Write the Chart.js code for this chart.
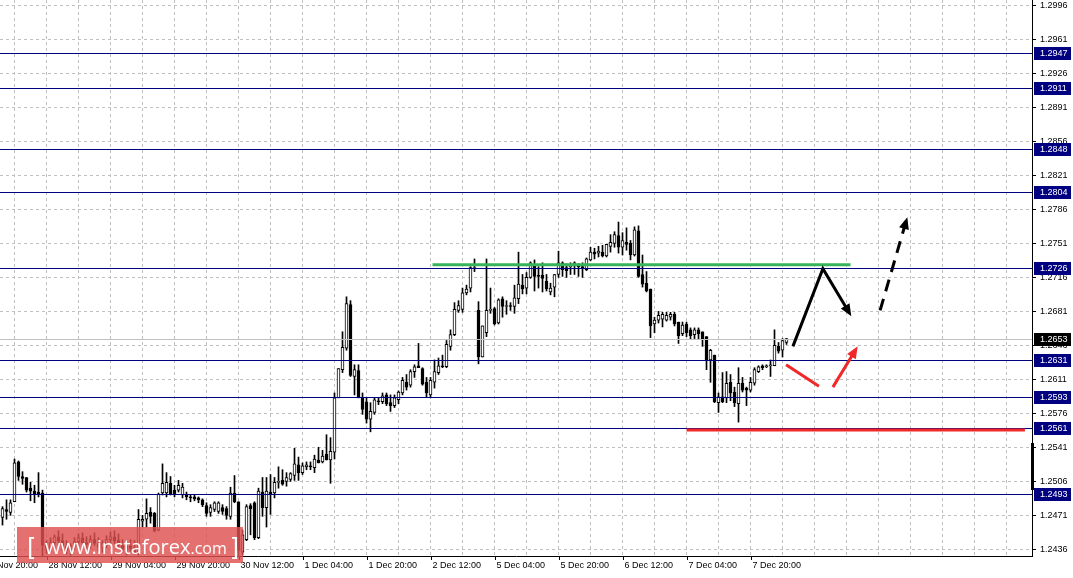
<!DOCTYPE html>
<html lang="en">
  <head>
    <meta charset="UTF-8" />
    <title>GBPUSD H1</title>
    <script src="https://cdn.jsdelivr.net/npm/chart.js"></script>
    <style>
      html, body { margin: 0; padding: 0; background: #fff; }
      #wrapper { width: 1073px; height: 578px; }
    </style>
  </head>
  <body>
    <div id="wrapper">
      <canvas id="priceChart" width="1073" height="578"></canvas>
    </div>

    <script>
      // H1 candles, one per bar, bar 0 = 28 Nov 01:00
      var opens = [
        1.2469,1.2477,1.2474,1.2485,1.2526,1.2511,1.2510,1.2499,1.2496,1.2495,
        1.2494,1.2440,1.2437,1.2443,1.2449,1.2445,1.2439,1.2435,1.2440,1.2444,
        1.2448,1.2443,1.2441,1.2446,1.2442,1.2438,1.2442,1.2446,1.2449,1.2445,
        1.2440,1.2436,1.2439,1.2437,1.2433,1.2465,1.2467,1.2474,1.2473,1.2456,
        1.2494,1.2494,1.2504,1.2497,1.2497,1.2492,1.2492,1.2490,1.2490,1.2489,
        1.2487,1.2481,1.2474,1.2477,1.2475,1.2479,1.2478,1.2470,1.2494,1.2485,
        1.2433,1.2446,1.2481,1.2484,1.2448,1.2495,1.2479,1.2495,1.2494,1.2505,
        1.2507,1.2506,1.2508,1.2512,1.2523,1.2515,1.2521,1.2522,1.2520,1.2528,
        1.2526,1.2534,1.2528,1.2536,1.2592,1.2621,1.2643,1.2688,1.2614,1.2620,
        1.2592,1.2588,1.2570,1.2577,1.2589,1.2588,1.2595,1.2587,1.2584,1.2590,
        1.2597,1.2608,1.2605,1.2619,1.2625,1.2622,1.2608,1.2595,1.2608,1.2618,
        1.2625,1.2624,1.2645,1.2657,1.2682,1.2683,1.2700,1.2705,1.2725,1.2682,
        1.2634,1.2659,1.2682,1.2684,1.2669,1.2694,1.2686,1.2687,1.2686,1.2694,
        1.2708,1.2705,1.2716,1.2728,1.2718,1.2718,1.2712,1.2701,1.2706,1.2719,
        1.2731,1.2726,1.2727,1.2730,1.2728,1.2727,1.2724,1.2734,1.2742,1.2741,
        1.2742,1.2738,1.2748,1.2751,1.2759,1.2747,1.2752,1.2751,1.2739,1.2764,
        1.2719,1.2710,1.2704,1.2668,1.2672,1.2673,1.2672,1.2675,1.2678,1.2670,
        1.2658,1.2668,1.2662,1.2657,1.2662,1.2660,1.2655,1.2631,1.2636,1.2587,
        1.2593,1.2592,1.2608,1.2598,1.2586,1.2607,1.2602,1.2600,1.2607,1.2619,
        1.2625,1.2624,1.2625,1.2625,1.2645,1.2641,1.2649
      ];
      var highs = [
        1.2480,1.2487,1.2487,1.2529,1.2527,1.2516,1.2510,1.2505,1.2502,1.2515,
        1.2497,1.2445,1.2448,1.2451,1.2455,1.2452,1.2445,1.2442,1.2448,1.2452,
        1.2453,1.2449,1.2450,1.2453,1.2448,1.2445,1.2450,1.2454,1.2455,1.2452,
        1.2446,1.2443,1.2446,1.2445,1.2477,1.2471,1.2488,1.2479,1.2474,1.2494,
        1.2524,1.2515,1.2511,1.2502,1.2507,1.2504,1.2495,1.2492,1.2492,1.2490,
        1.2488,1.2484,1.2482,1.2485,1.2485,1.2482,1.2480,1.2500,1.2512,1.2485,
        1.2456,1.2482,1.2483,1.2485,1.2499,1.2510,1.2510,1.2513,1.2510,1.2521,
        1.2518,1.2515,1.2515,1.2540,1.2531,1.2525,1.2526,1.2526,1.2533,1.2541,
        1.2538,1.2554,1.2551,1.2597,1.2622,1.2660,1.2696,1.2692,1.2626,1.2626,
        1.2597,1.2592,1.2587,1.2592,1.2592,1.2597,1.2597,1.2595,1.2595,1.2599,
        1.2613,1.2616,1.2621,1.2626,1.2648,1.2623,1.2613,1.2613,1.2631,1.2633,
        1.2636,1.2651,1.2662,1.2690,1.2692,1.2705,1.2708,1.2727,1.2735,1.2691,
        1.2666,1.2735,1.2705,1.2685,1.2694,1.2696,1.2692,1.2690,1.2708,1.2742,
        1.2719,1.2721,1.2732,1.2734,1.2727,1.2731,1.2719,1.2710,1.2719,1.2743,
        1.2732,1.2730,1.2731,1.2732,1.2730,1.2731,1.2736,1.2747,1.2746,1.2748,
        1.2749,1.2750,1.2760,1.2763,1.2773,1.2762,1.2767,1.2754,1.2768,1.2769,
        1.2739,1.2722,1.2704,1.2675,1.2681,1.2680,1.2680,1.2680,1.2680,1.2670,
        1.2670,1.2670,1.2664,1.2664,1.2664,1.2660,1.2655,1.2642,1.2636,1.2597,
        1.2618,1.2619,1.2616,1.2603,1.2623,1.2613,1.2603,1.2613,1.2623,1.2625,
        1.2626,1.2626,1.2631,1.2662,1.2649,1.2653,1.2653
      ];
      var lows = [
        1.2461,1.2467,1.2471,1.2485,1.2507,1.2503,1.2495,1.2486,1.2484,1.2490,
        1.2429,1.2432,1.2433,1.2437,1.2440,1.2435,1.2431,1.2430,1.2436,1.2439,
        1.2441,1.2436,1.2437,1.2440,1.2434,1.2433,1.2438,1.2441,1.2442,1.2437,
        1.2433,1.2430,1.2434,1.2431,1.2430,1.2459,1.2459,1.2463,1.2454,1.2455,
        1.2492,1.2490,1.2492,1.2490,1.2495,1.2489,1.2487,1.2485,1.2486,1.2484,
        1.2480,1.2470,1.2470,1.2475,1.2473,1.2472,1.2467,1.2467,1.2484,1.2429,
        1.2430,1.2445,1.2451,1.2446,1.2447,1.2470,1.2459,1.2472,1.2489,1.2499,
        1.2502,1.2501,1.2506,1.2507,1.2507,1.2513,1.2518,1.2518,1.2515,1.2525,
        1.2525,1.2528,1.2504,1.2529,1.2592,1.2618,1.2641,1.2614,1.2595,1.2592,
        1.2575,1.2566,1.2557,1.2575,1.2585,1.2586,1.2584,1.2578,1.2582,1.2586,
        1.2595,1.2600,1.2603,1.2613,1.2623,1.2605,1.2593,1.2592,1.2602,1.2616,
        1.2623,1.2623,1.2641,1.2656,1.2680,1.2680,1.2698,1.2701,1.2722,1.2627,
        1.2634,1.2655,1.2679,1.2667,1.2668,1.2675,1.2678,1.2682,1.2679,1.2689,
        1.2699,1.2699,1.2715,1.2702,1.2705,1.2701,1.2702,1.2698,1.2696,1.2716,
        1.2717,1.2716,1.2719,1.2719,1.2717,1.2716,1.2723,1.2733,1.2735,1.2737,
        1.2737,1.2737,1.2742,1.2747,1.2741,1.2739,1.2744,1.2734,1.2738,1.2716,
        1.2706,1.2701,1.2654,1.2659,1.2669,1.2665,1.2671,1.2672,1.2666,1.2648,
        1.2656,1.2655,1.2652,1.2653,1.2652,1.2645,1.2621,1.2608,1.2587,1.2577,
        1.2587,1.2587,1.2589,1.2583,1.2567,1.2598,1.2584,1.2598,1.2605,1.2618,
        1.2621,1.2623,1.2614,1.2625,1.2638,1.2634,1.2647
      ];
      var closes = [
        1.2478,1.2475,1.2484,1.2525,1.2511,1.2509,1.2497,1.2496,1.2493,1.2493,
        1.2440,1.2437,1.2443,1.2449,1.2445,1.2439,1.2435,1.2440,1.2444,1.2448,
        1.2443,1.2441,1.2446,1.2442,1.2438,1.2442,1.2446,1.2449,1.2445,1.2440,
        1.2436,1.2439,1.2437,1.2433,1.2467,1.2467,1.2473,1.2470,1.2455,1.2493,
        1.2504,1.2505,1.2493,1.2493,1.2502,1.2500,1.2490,1.2489,1.2488,1.2487,
        1.2482,1.2473,1.2479,1.2484,1.2484,1.2475,1.2471,1.2494,1.2485,1.2435,
        1.2451,1.2480,1.2478,1.2448,1.2496,1.2479,1.2496,1.2493,1.2505,1.2506,
        1.2503,1.2510,1.2514,1.2524,1.2515,1.2522,1.2523,1.2521,1.2529,1.2525,
        1.2532,1.2528,1.2537,1.2592,1.2622,1.2644,1.2689,1.2615,1.2621,1.2592,
        1.2580,1.2570,1.2578,1.2590,1.2588,1.2594,1.2586,1.2584,1.2592,1.2598,
        1.2610,1.2603,1.2619,1.2624,1.2623,1.2606,1.2597,1.2610,1.2619,1.2625,
        1.2624,1.2647,1.2657,1.2683,1.2687,1.2700,1.2704,1.2726,1.2726,1.2634,
        1.2666,1.2682,1.2683,1.2668,1.2693,1.2686,1.2687,1.2686,1.2695,1.2709,
        1.2704,1.2716,1.2731,1.2717,1.2717,1.2715,1.2704,1.2705,1.2719,1.2731,
        1.2724,1.2723,1.2728,1.2731,1.2727,1.2726,1.2735,1.2742,1.2740,1.2743,
        1.2738,1.2750,1.2752,1.2760,1.2747,1.2754,1.2750,1.2739,1.2765,1.2717,
        1.2709,1.2702,1.2666,1.2672,1.2677,1.2678,1.2677,1.2678,1.2668,1.2656,
        1.2667,1.2659,1.2656,1.2662,1.2658,1.2652,1.2631,1.2641,1.2588,1.2593,
        1.2588,1.2607,1.2597,1.2587,1.2607,1.2600,1.2600,1.2608,1.2621,1.2624,
        1.2623,1.2625,1.2626,1.2646,1.2640,1.2651,1.2653
      ];

      // time scale labels and the bar each one sits on
      var timeLabels = ["27 Nov 20:00", "28 Nov 12:00", "29 Nov 04:00", "29 Nov 20:00",
        "30 Nov 12:00", "1 Dec 04:00", "1 Dec 20:00", "2 Dec 12:00", "5 Dec 04:00",
        "5 Dec 20:00", "6 Dec 12:00", "7 Dec 04:00", "7 Dec 20:00"];
      var timeLabelBars = [-5, 11, 27, 43, 59, 75, 91, 107, 123, 139, 155, 171, 187];

      // price scale
      var priceTicks = [1.2436, 1.2471, 1.2506, 1.2541, 1.2576, 1.2611, 1.2646, 1.2681,
        1.2716, 1.2751, 1.2786, 1.2821, 1.2856, 1.2891, 1.2926, 1.2961, 1.2996];
      var levels = [1.2947, 1.2911, 1.2848, 1.2804, 1.2726, 1.2631, 1.2593, 1.2561, 1.2493];
      var bidPrice = 1.2653;

      // drawn objects: [bar, price]
      var greenLine = [[107.5, 1.2729], [212, 1.2729]];
      var redLine = [[171, 1.2559], [255.6, 1.2559]];
      var blackPath = [[197.6, 1.2645], [205.1, 1.2725], [212.2, 1.2676]];
      var blackDashed = [[219.4, 1.2682], [226.2, 1.2778]];
      var redTail = [[195.9, 1.2626], [204.1, 1.2604]];
      var redUp = [[207.6, 1.2603], [213.8, 1.2645]];
      var axisMark = [1.2545, 1.2497];

      var FONT = "9px 'Liberation Sans', Arial, sans-serif";

      var bodies = opens.map(function (o, i) { return { x: i, y: [o, closes[i]] }; });
      var wicks = highs.map(function (h, i) { return { x: i, y: [lows[i], h] }; });
      var bodyColors = opens.map(function (o, i) { return closes[i] >= o ? "#ffffff" : "#000000"; });

      function px(chart, p) {
        return [chart.scales.x.getPixelForValue(p[0]), chart.scales.y.getPixelForValue(p[1])];
      }

      function drawPath(ctx, pts, color, dash, head) {
        ctx.save();
        ctx.strokeStyle = color;
        ctx.fillStyle = color;
        ctx.lineWidth = 3;
        ctx.lineJoin = "miter";
        ctx.setLineDash(dash || []);
        var last = pts[pts.length - 1], prev = pts[pts.length - 2];
        var ang = Math.atan2(last[1] - prev[1], last[0] - prev[0]);
        var headLen = 13;
        ctx.beginPath();
        for (var i = 0; i < pts.length; i++) {
          var p = pts[i];
          if (head && i === pts.length - 1) {
            p = [p[0] - Math.cos(ang) * (headLen - 2), p[1] - Math.sin(ang) * (headLen - 2)];
          }
          if (i === 0) ctx.moveTo(p[0], p[1]); else ctx.lineTo(p[0], p[1]);
        }
        ctx.stroke();
        if (head) {
          ctx.setLineDash([]);
          ctx.beginPath();
          ctx.moveTo(last[0], last[1]);
          ctx.lineTo(last[0] - headLen * Math.cos(ang - 0.4), last[1] - headLen * Math.sin(ang - 0.4));
          ctx.lineTo(last[0] - headLen * Math.cos(ang + 0.4), last[1] - headLen * Math.sin(ang + 0.4));
          ctx.closePath();
          ctx.fill();
        }
        ctx.restore();
      }

      var mt4Objects = {
        id: "mt4Objects",
        afterDatasetsDraw: function (chart) {
          var ctx = chart.ctx, area = chart.chartArea, ys = chart.scales.y;
          ctx.save();
          ctx.beginPath();
          ctx.rect(area.left, area.top, area.right - area.left, area.bottom - area.top);
          ctx.clip();
          ctx.lineWidth = 1;

          var yb = Math.round(ys.getPixelForValue(bidPrice)) + 0.5;
          ctx.strokeStyle = "#c0c0c0";
          ctx.beginPath(); ctx.moveTo(area.left, yb); ctx.lineTo(area.right, yb); ctx.stroke();

          ctx.strokeStyle = "#000080";
          levels.forEach(function (lv) {
            var y = Math.round(ys.getPixelForValue(lv)) + 0.5;
            ctx.beginPath(); ctx.moveTo(area.left, y); ctx.lineTo(area.right, y); ctx.stroke();
          });

          drawPath(ctx, greenLine.map(function (p) { return px(chart, p); }), "#37b45a");
          drawPath(ctx, redLine.map(function (p) { return px(chart, p); }), "#f02828");
          drawPath(ctx, blackPath.map(function (p) { return px(chart, p); }), "#000000", null, true);
          drawPath(ctx, blackDashed.map(function (p) { return px(chart, p); }), "#000000", [12, 8], true);
          drawPath(ctx, redTail.map(function (p) { return px(chart, p); }), "#f02828");
          drawPath(ctx, redUp.map(function (p) { return px(chart, p); }), "#f02828", null, true);
          ctx.restore();
        },
        afterDraw: function (chart) {
          var ctx = chart.ctx, area = chart.chartArea, ys = chart.scales.y, xs = chart.scales.x;
          ctx.save();
          ctx.font = FONT;
          ctx.textBaseline = "middle";
          ctx.textAlign = "left";

          // price labels
          ctx.fillStyle = "#000";
          ctx.strokeStyle = "#000";
          ctx.lineWidth = 1;
          priceTicks.forEach(function (t) {
            var y = Math.round(ys.getPixelForValue(t)) + 0.5;
            ctx.beginPath(); ctx.moveTo(area.right, y); ctx.lineTo(area.right + 4, y); ctx.stroke();
            ctx.fillText(t.toFixed(4), area.right + 8, y);
          });

          // thick marker on the price axis
          var m1 = ys.getPixelForValue(axisMark[0]), m2 = ys.getPixelForValue(axisMark[1]);
          ctx.fillRect(area.right - 1, Math.round(m1), 3, Math.round(m2 - m1));

          // level boxes
          function box(price, color) {
            var y = Math.round(ys.getPixelForValue(price));
            ctx.fillStyle = color;
            ctx.fillRect(area.right + 2, y - 6, 37, 13);
            ctx.fillStyle = "#fff";
            ctx.fillText(price.toFixed(4), area.right + 8, y + 0.5);
          }
          levels.forEach(function (lv) { box(lv, "#000080"); });
          box(bidPrice, "#000000");

          // time labels
          ctx.fillStyle = "#000";
          timeLabels.forEach(function (txt, i) {
            var x = Math.round(xs.getPixelForValue(timeLabelBars[i])) + 0.5;
            ctx.beginPath(); ctx.moveTo(x, area.bottom); ctx.lineTo(x, area.bottom + 4); ctx.stroke();
            ctx.fillText(txt, x + 1, area.bottom + 10);
          });

          // watermark
          ctx.fillStyle = "rgba(222, 80, 80, 0.82)";
          ctx.fillRect(17, 527, 226, 36);
          ctx.fillStyle = "#ffffff";
          ctx.textBaseline = "alphabetic";
          ctx.font = "24px 'DejaVu Sans', sans-serif";
          ctx.fillText("[", 27, 556);
          ctx.font = "20px 'Open Sans', sans-serif";
          var w = ctx.measureText("www.instaforex").width;
          ctx.fillText("www.instaforex", 45, 554);
          ctx.font = "16px 'Open Sans', sans-serif";
          var w2 = ctx.measureText(".com").width;
          ctx.fillText(".com", 45 + w, 554);
          ctx.font = "24px 'DejaVu Sans', sans-serif";
          ctx.fillText("]", 45 + w + w2 + 3, 556);
          ctx.restore();
        }
      };

      var ctx = document.getElementById("priceChart").getContext("2d");
      var chart = new Chart(ctx, {
        type: "bar",
        data: {
          datasets: [
            {
              label: "body",
              data: bodies,
              backgroundColor: bodyColors,
              borderColor: "#000000",
              borderWidth: 1,
              borderSkipped: false,
              barThickness: 3,
              minBarLength: 1,
              grouped: false,
              order: 0,
            },
            {
              label: "wick",
              data: wicks,
              backgroundColor: "#000000",
              borderWidth: 0,
              barThickness: 1,
              grouped: false,
              order: 1,
            },
          ],
        },
        options: {
          responsive: false,
          animation: false,
          layout: { padding: 0 },
          plugins: { legend: { display: false }, tooltip: { enabled: false } },
          scales: {
            x: {
              type: "linear",
              position: "bottom",
              min: -0.625,
              max: 257.375,
              offset: false,
              grid: { offset: false, color: "#c0c0c0", drawTicks: false },
              border: { color: "#000", width: 1, dash: [3, 3] },
              ticks: { display: false },
              afterBuildTicks: function (s) {
                var t = [];
                for (var v = 3; v <= s.max; v += 8) t.push({ value: v });
                s.ticks = t;
              },
              afterFit: function (s) { s.height = 22; },
            },
            y: {
              type: "linear",
              position: "right",
              min: 1.242917,
              max: 1.300156,
              beginAtZero: false,
              grid: { color: "#c0c0c0", drawTicks: false },
              border: { color: "#000", width: 1, dash: [3, 3] },
              ticks: { display: false },
              afterBuildTicks: function (s) {
                s.ticks = priceTicks.map(function (v) { return { value: v }; });
              },
              afterFit: function (s) { s.width = 41; },
            },
          },
        },
        plugins: [mt4Objects],
      });
    </script>
  </body>
</html>
